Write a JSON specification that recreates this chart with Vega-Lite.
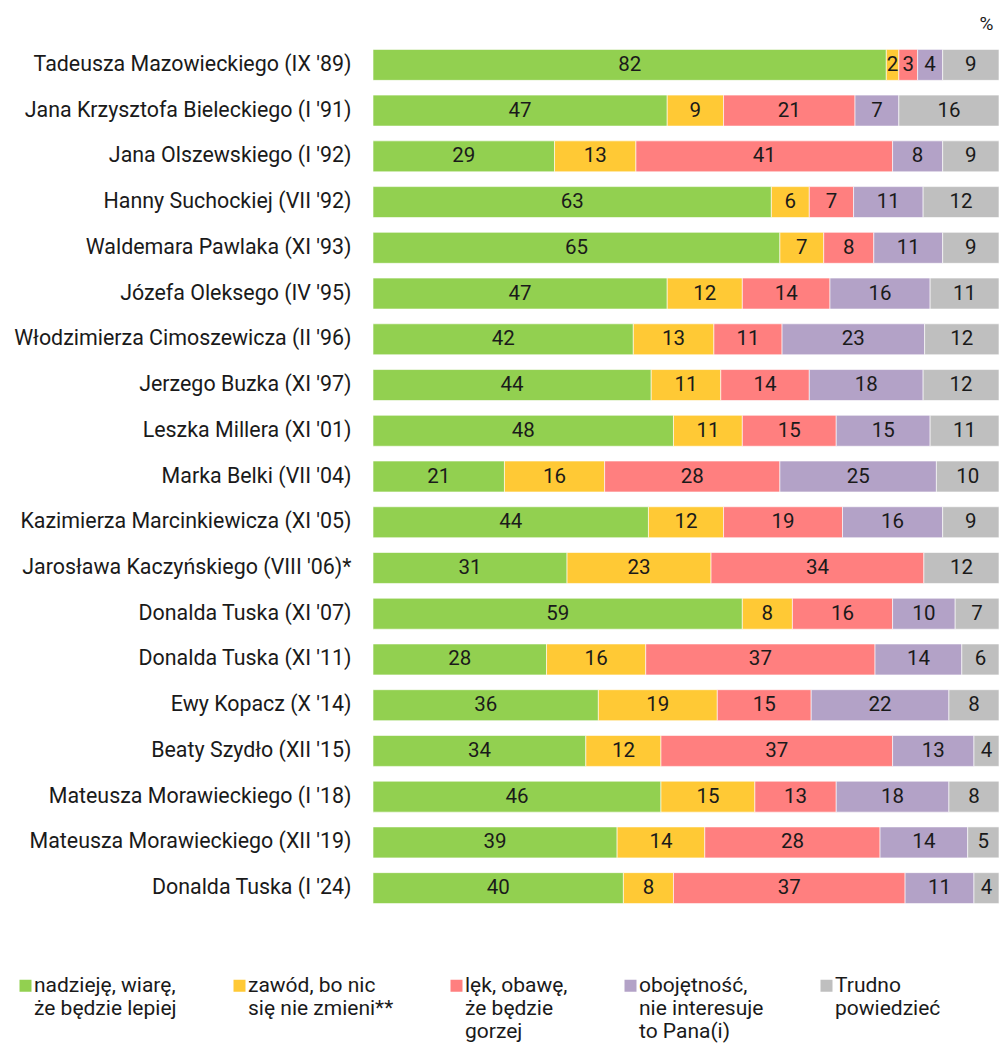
{
  "$schema": "https://vega.github.io/schema/vega-lite/v6.json",
  "width": 626,
  "height": 869,
  "autosize": {"type": "none"},
  "padding": {"left": 373, "top": 42, "right": 0, "bottom": 134},
  "background": "white",
  "title": {"text": "%", "anchor": "end", "fontSize": 19, "fontWeight": "normal", "font": "Roboto", "color": "#1a1a1a", "offset": 8, "dx": -6},
  "data": {"values": [
    {"p": "Tadeusza Mazowieckiego (IX '89)", "k": 1, "v": 82},
    {"p": "Tadeusza Mazowieckiego (IX '89)", "k": 2, "v": 2},
    {"p": "Tadeusza Mazowieckiego (IX '89)", "k": 3, "v": 3},
    {"p": "Tadeusza Mazowieckiego (IX '89)", "k": 4, "v": 4},
    {"p": "Tadeusza Mazowieckiego (IX '89)", "k": 5, "v": 9},
    {"p": "Jana Krzysztofa Bieleckiego (I '91)", "k": 1, "v": 47},
    {"p": "Jana Krzysztofa Bieleckiego (I '91)", "k": 2, "v": 9},
    {"p": "Jana Krzysztofa Bieleckiego (I '91)", "k": 3, "v": 21},
    {"p": "Jana Krzysztofa Bieleckiego (I '91)", "k": 4, "v": 7},
    {"p": "Jana Krzysztofa Bieleckiego (I '91)", "k": 5, "v": 16},
    {"p": "Jana Olszewskiego (I '92)", "k": 1, "v": 29},
    {"p": "Jana Olszewskiego (I '92)", "k": 2, "v": 13},
    {"p": "Jana Olszewskiego (I '92)", "k": 3, "v": 41},
    {"p": "Jana Olszewskiego (I '92)", "k": 4, "v": 8},
    {"p": "Jana Olszewskiego (I '92)", "k": 5, "v": 9},
    {"p": "Hanny Suchockiej (VII '92)", "k": 1, "v": 63},
    {"p": "Hanny Suchockiej (VII '92)", "k": 2, "v": 6},
    {"p": "Hanny Suchockiej (VII '92)", "k": 3, "v": 7},
    {"p": "Hanny Suchockiej (VII '92)", "k": 4, "v": 11},
    {"p": "Hanny Suchockiej (VII '92)", "k": 5, "v": 12},
    {"p": "Waldemara Pawlaka (XI '93)", "k": 1, "v": 65},
    {"p": "Waldemara Pawlaka (XI '93)", "k": 2, "v": 7},
    {"p": "Waldemara Pawlaka (XI '93)", "k": 3, "v": 8},
    {"p": "Waldemara Pawlaka (XI '93)", "k": 4, "v": 11},
    {"p": "Waldemara Pawlaka (XI '93)", "k": 5, "v": 9},
    {"p": "Józefa Oleksego (IV '95)", "k": 1, "v": 47},
    {"p": "Józefa Oleksego (IV '95)", "k": 2, "v": 12},
    {"p": "Józefa Oleksego (IV '95)", "k": 3, "v": 14},
    {"p": "Józefa Oleksego (IV '95)", "k": 4, "v": 16},
    {"p": "Józefa Oleksego (IV '95)", "k": 5, "v": 11},
    {"p": "Włodzimierza Cimoszewicza (II '96)", "k": 1, "v": 42},
    {"p": "Włodzimierza Cimoszewicza (II '96)", "k": 2, "v": 13},
    {"p": "Włodzimierza Cimoszewicza (II '96)", "k": 3, "v": 11},
    {"p": "Włodzimierza Cimoszewicza (II '96)", "k": 4, "v": 23},
    {"p": "Włodzimierza Cimoszewicza (II '96)", "k": 5, "v": 12},
    {"p": "Jerzego Buzka (XI '97)", "k": 1, "v": 44},
    {"p": "Jerzego Buzka (XI '97)", "k": 2, "v": 11},
    {"p": "Jerzego Buzka (XI '97)", "k": 3, "v": 14},
    {"p": "Jerzego Buzka (XI '97)", "k": 4, "v": 18},
    {"p": "Jerzego Buzka (XI '97)", "k": 5, "v": 12},
    {"p": "Leszka Millera (XI '01)", "k": 1, "v": 48},
    {"p": "Leszka Millera (XI '01)", "k": 2, "v": 11},
    {"p": "Leszka Millera (XI '01)", "k": 3, "v": 15},
    {"p": "Leszka Millera (XI '01)", "k": 4, "v": 15},
    {"p": "Leszka Millera (XI '01)", "k": 5, "v": 11},
    {"p": "Marka Belki (VII '04)", "k": 1, "v": 21},
    {"p": "Marka Belki (VII '04)", "k": 2, "v": 16},
    {"p": "Marka Belki (VII '04)", "k": 3, "v": 28},
    {"p": "Marka Belki (VII '04)", "k": 4, "v": 25},
    {"p": "Marka Belki (VII '04)", "k": 5, "v": 10},
    {"p": "Kazimierza Marcinkiewicza (XI '05)", "k": 1, "v": 44},
    {"p": "Kazimierza Marcinkiewicza (XI '05)", "k": 2, "v": 12},
    {"p": "Kazimierza Marcinkiewicza (XI '05)", "k": 3, "v": 19},
    {"p": "Kazimierza Marcinkiewicza (XI '05)", "k": 4, "v": 16},
    {"p": "Kazimierza Marcinkiewicza (XI '05)", "k": 5, "v": 9},
    {"p": "Jarosława Kaczyńskiego (VIII '06)*", "k": 1, "v": 31},
    {"p": "Jarosława Kaczyńskiego (VIII '06)*", "k": 2, "v": 23},
    {"p": "Jarosława Kaczyńskiego (VIII '06)*", "k": 3, "v": 34},
    {"p": "Jarosława Kaczyńskiego (VIII '06)*", "k": 5, "v": 12},
    {"p": "Donalda Tuska (XI '07)", "k": 1, "v": 59},
    {"p": "Donalda Tuska (XI '07)", "k": 2, "v": 8},
    {"p": "Donalda Tuska (XI '07)", "k": 3, "v": 16},
    {"p": "Donalda Tuska (XI '07)", "k": 4, "v": 10},
    {"p": "Donalda Tuska (XI '07)", "k": 5, "v": 7},
    {"p": "Donalda Tuska (XI '11)", "k": 1, "v": 28},
    {"p": "Donalda Tuska (XI '11)", "k": 2, "v": 16},
    {"p": "Donalda Tuska (XI '11)", "k": 3, "v": 37},
    {"p": "Donalda Tuska (XI '11)", "k": 4, "v": 14},
    {"p": "Donalda Tuska (XI '11)", "k": 5, "v": 6},
    {"p": "Ewy Kopacz (X '14)", "k": 1, "v": 36},
    {"p": "Ewy Kopacz (X '14)", "k": 2, "v": 19},
    {"p": "Ewy Kopacz (X '14)", "k": 3, "v": 15},
    {"p": "Ewy Kopacz (X '14)", "k": 4, "v": 22},
    {"p": "Ewy Kopacz (X '14)", "k": 5, "v": 8},
    {"p": "Beaty Szydło (XII '15)", "k": 1, "v": 34},
    {"p": "Beaty Szydło (XII '15)", "k": 2, "v": 12},
    {"p": "Beaty Szydło (XII '15)", "k": 3, "v": 37},
    {"p": "Beaty Szydło (XII '15)", "k": 4, "v": 13},
    {"p": "Beaty Szydło (XII '15)", "k": 5, "v": 4},
    {"p": "Mateusza Morawieckiego (I '18)", "k": 1, "v": 46},
    {"p": "Mateusza Morawieckiego (I '18)", "k": 2, "v": 15},
    {"p": "Mateusza Morawieckiego (I '18)", "k": 3, "v": 13},
    {"p": "Mateusza Morawieckiego (I '18)", "k": 4, "v": 18},
    {"p": "Mateusza Morawieckiego (I '18)", "k": 5, "v": 8},
    {"p": "Mateusza Morawieckiego (XII '19)", "k": 1, "v": 39},
    {"p": "Mateusza Morawieckiego (XII '19)", "k": 2, "v": 14},
    {"p": "Mateusza Morawieckiego (XII '19)", "k": 3, "v": 28},
    {"p": "Mateusza Morawieckiego (XII '19)", "k": 4, "v": 14},
    {"p": "Mateusza Morawieckiego (XII '19)", "k": 5, "v": 5},
    {"p": "Donalda Tuska (I '24)", "k": 1, "v": 40},
    {"p": "Donalda Tuska (I '24)", "k": 2, "v": 8},
    {"p": "Donalda Tuska (I '24)", "k": 3, "v": 37},
    {"p": "Donalda Tuska (I '24)", "k": 4, "v": 11},
    {"p": "Donalda Tuska (I '24)", "k": 5, "v": 4}
  ]},
  "transform": [
    {"stack": "v", "groupby": ["p"], "sort": [{"field": "k", "order": "ascending"}], "offset": "normalize", "as": ["x0", "x1"]},
    {"calculate": "(datum.x0 + datum.x1) / 2", "as": "xm"}
  ],
  "encoding": {
    "y": {
      "field": "p", "type": "nominal", "sort": null, "title": null,
      "scale": {"paddingInner": 0.323, "paddingOuter": 0.1615},
      "axis": {"domain": false, "ticks": false, "tickSize": 0, "labelPadding": 22, "labelFont": "Roboto", "labelFontSize": 21.4, "labelColor": "#1a1a1a", "labelLimit": 400}
    }
  },
  "layer": [
    {
      "mark": {"type": "bar", "stroke": "#ffffff", "strokeWidth": 0.6},
      "encoding": {
        "x": {"field": "x0", "type": "quantitative", "scale": {"domain": [0, 1], "nice": false, "zero": false}, "axis": null},
        "x2": {"field": "x1"},
        "color": {
          "field": "k", "type": "ordinal",
          "scale": {"domain": [1, 2, 3, 4, 5], "range": ["#92D050", "#FFC935", "#FF7F7F", "#B3A2C7", "#BFBFBF"]},
          "legend": {
            "title": null, "orient": "none", "legendX": -358, "legendY": 933,
            "direction": "horizontal", "columns": 5, "columnPadding": 52, "gridAlign": "each", "padding": 0,
            "symbolType": "square", "symbolSize": 144, "symbolStrokeWidth": 0, "symbolOpacity": 1,
            "labelFont": "Roboto", "labelFontSize": 21, "labelColor": "#1a1a1a", "labelLineHeight": 24.5, "labelOffset": -2, "labelLimit": 300,
            "labelExpr": "[['nadzieję, wiarę,', 'że będzie lepiej', ''], ['zawód, bo nic', 'się nie zmieni**', ''], ['lęk, obawę,', 'że będzie', 'gorzej'], ['obojętność,', 'nie interesuje', 'to Pana(i)'], ['Trudno', 'powiedzieć', '']][datum.value - 1]"
          }
        }
      }
    },
    {
      "mark": {"type": "text", "font": "Roboto", "fontSize": 20.5, "color": "#1a1a1a", "baseline": "middle", "align": "center"},
      "encoding": {
        "x": {"field": "xm", "type": "quantitative"},
        "text": {"field": "v", "type": "quantitative"}
      }
    }
  ],
  "config": {"view": {"stroke": null}}
}
